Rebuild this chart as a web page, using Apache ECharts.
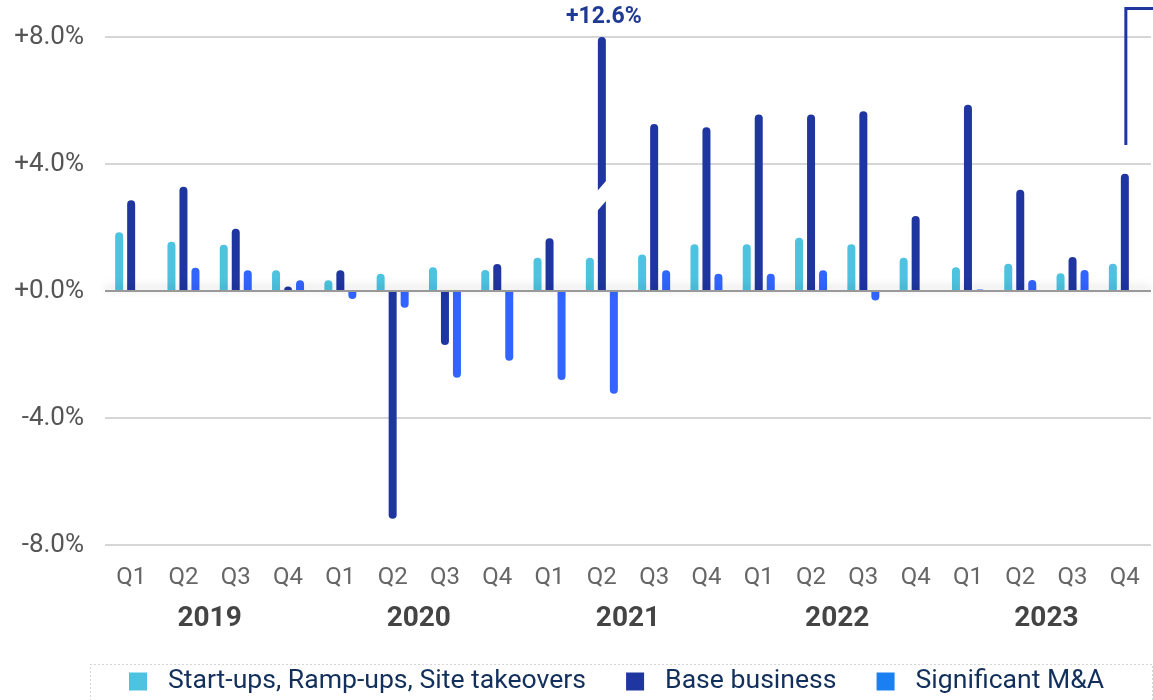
<!DOCTYPE html>
<html>
<head>
<meta charset="utf-8">
<script src="https://cdn.jsdelivr.net/npm/echarts@6/dist/echarts.min.js"></script>
<style>
  html, body { margin: 0; padding: 0; background: #fff; }
  #chart { width: 1153px; height: 700px; }
</style>
</head>
<body>
<div id="chart"></div>
<script>
// quarter / year labels
const quarters = ['Q1', 'Q2', 'Q3', 'Q4', 'Q1', 'Q2', 'Q3', 'Q4', 'Q1', 'Q2', 'Q3', 'Q4',
                  'Q1', 'Q2', 'Q3', 'Q4', 'Q1', 'Q2', 'Q3', 'Q4'];
const years = ['2019', '2020', '2021', '2022', '2023'];
const yTicks = [-8, -4, 0, 4, 8];

// growth contributions, %
const startups = [1.85, 1.55, 1.46, 0.65, 0.34, 0.54, 0.75, 0.66, 1.05, 1.05, 1.15, 1.47,
                  1.47, 1.68, 1.47, 1.05, 0.75, 0.86, 0.56, 0.86];
const base = [2.86, 3.28, 1.96, 0.14, 0.65, -7.17, -1.70, 0.85, 1.66, 12.6, 5.26, 5.16,
              5.56, 5.56, 5.66, 2.36, 5.87, 3.19, 1.07, 3.69];
const mna = [0, 0.73, 0.65, 0.34, -0.25, -0.53, -2.73, -2.2, -2.8, -3.24, 0.65, 0.54,
             0.54, 0.65, -0.3, 0, 0.05, 0.35, 0.66, 0];

// the broken bar (2021 Q2) and the bracket line at the right edge
const brokenBar = [[9, 3.0]];
const bracket = [[19, 4.6], [19, 8.9]];

const C_START = '#4DC3E0', C_BASE = '#1F36A0', C_MNA = '#3264FF';

function bars(arr) {
  return arr.map(v => ({
    value: v,
    itemStyle: { borderRadius: v < 0 ? [0, 0, 4, 4] : [4, 4, 0, 0] }
  }));
}

const chart = echarts.init(document.getElementById('chart'));

const option = {
  animation: false,
  textStyle: { fontFamily: 'Roboto' },
  grid: { left: 105, right: 2, top: 37, bottom: 155 },
  legend: {
    left: 129,
    top: 668,
    padding: 0,
    itemWidth: 18,
    itemHeight: 18,
    itemGap: 40,
    icon: 'rect',
    textStyle: { fontSize: 26.6, color: '#13305C', padding: [0, 0, 0, 16] },
    data: [
      { name: 'Start-ups, Ramp-ups, Site takeovers', itemStyle: { color: C_START } },
      { name: 'Base business', itemStyle: { color: C_BASE } },
      { name: 'Significant M&A', itemStyle: { color: '#1A80F2' } }
    ]
  },
  graphic: [{
    type: 'rect',
    left: 88, top: 662,
    shape: { width: 1062, height: 60 },
    style: { fill: 'none', stroke: '#aaa', lineWidth: 1, lineDash: [1, 3] },
    silent: true
  }],
  xAxis: [{
    type: 'category',
    data: quarters,
    position: 'bottom',
    axisLine: { show: false, onZero: false },
    axisTick: { show: false },
    axisLabel: { fontSize: 24, color: '#666', margin: 21 }
  }, {
    type: 'category',
    data: years,
    position: 'bottom',
    axisLine: { show: false, onZero: false },
    axisTick: { show: false },
    axisLabel: { fontSize: 28, fontWeight: 'bold', color: '#444', margin: 60 }
  }],
  yAxis: {
    type: 'value',
    min: yTicks[0],
    max: yTicks[yTicks.length - 1],
    interval: 4,
    axisLine: { show: false },
    axisTick: { show: false },
    axisLabel: {
      fontSize: 26, color: '#555', margin: 21,
      formatter: v => (v >= 0 ? '+' : '') + v.toFixed(1) + '%'
    },
    splitLine: { lineStyle: { color: '#c8c8c8', width: 1.5 } }
  },
  series: [{
    name: 'Start-ups, Ramp-ups, Site takeovers',
    type: 'bar',
    barWidth: 8,
    barGap: '50%',
    itemStyle: { color: C_START },
    data: bars(startups),
    markLine: {
      silent: true,
      symbol: 'none',
      label: { show: false },
      lineStyle: { color: '#999', width: 2, type: 'solid',
                   shadowColor: 'rgba(0,0,0,0.25)', shadowBlur: 8, shadowOffsetY: -3 },
      data: [{ yAxis: 0 }]
    }
  }, {
    name: 'Base business',
    type: 'bar',
    barWidth: 8,
    barGap: '50%',
    itemStyle: { color: C_BASE },
    data: bars(base)
  }, {
    name: 'Significant M&A',
    type: 'bar',
    barWidth: 8,
    barGap: '50%',
    itemStyle: { color: C_MNA },
    data: bars(mna)
  }, {
    // white cut across the clipped bar + its real value above the plot
    type: 'custom',
    z: 5,
    silent: true,
    data: brokenBar,
    encode: { x: 0, y: 1 },
    renderItem: function (params, api) {
      const p = api.coord([api.value(0), api.value(1)]);
      const top = api.coord([api.value(0), 8]);
      const v = base[api.value(0)];
      return {
        type: 'group',
        children: [{
          type: 'polygon',
          shape: { points: [[p[0] - 7, p[1] - 2], [p[0] + 7, p[1] - 18],
                            [p[0] + 7, p[1] + 2], [p[0] - 7, p[1] + 18]] },
          style: { fill: '#fff' }
        }, {
          type: 'text',
          style: {
            text: '+' + v.toFixed(1) + '%',
            x: top[0] + 2, y: top[1] - 20,
            align: 'center', verticalAlign: 'middle',
            font: 'bold 23px Roboto', fill: '#1F3A93'
          }
        }]
      };
    }
  }, {
    // bracket line pointing to the last bar
    type: 'custom',
    z: 5,
    silent: true,
    data: [bracket[0]],
    encode: { x: 0, y: 1 },
    renderItem: function (params, api) {
      const a = api.coord(bracket[0]);
      const b = api.coord(bracket[1]);
      return {
        type: 'polyline',
        shape: { points: [[a[0] + 1, a[1]], [b[0] + 1, b[1]], [api.getWidth(), b[1]]] },
        style: { stroke: C_BASE, lineWidth: 3, fill: 'none' }
      };
    }
  }]
};

chart.setOption(option);
</script>
</body>
</html>
